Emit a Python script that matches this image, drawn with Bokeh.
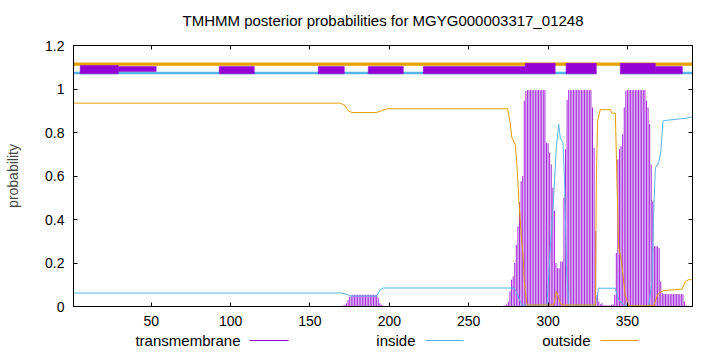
from bokeh.plotting import figure
from bokeh.models import Range1d, FixedTicker, LinearAxis
from bokeh.layouts import column
from bokeh.embed import file_html
from bokeh.resources import INLINE
from bokeh.core.properties import value

TITLE = "TMHMM posterior probabilities for MGYG000003317_01248"
SEQ_START = 1
SEQ_END = 391

x_ticks = [50, 100, 150, 200, 250, 300, 350]
y_ticks = [0, 0.2, 0.4, 0.6, 0.8, 1.0, 1.2]
y_tick_labels = ["0", "0.2", "0.4", "0.6", "0.8", "1", "1.2"]

# posterior probability of "outside" (at its breakpoints)
outside_x = [1, 169, 172, 174, 176.4, 192, 195, 198.5, 274.5, 276, 277.2, 279.3,
             280.4, 281.5, 282.9, 284.2, 285, 286.7, 303.5, 304.5, 305.2, 306.2,
             307.3, 308.8, 329.8, 330.4, 331.2, 332.9, 339.2, 340.3, 342.4, 343.4,
             344.5, 345.9, 347.2, 348.6, 350.8, 366.5, 368.6, 369.7, 372.8, 384.4,
             386.5, 388.6, 391]
outside_y = [0.935, 0.935, 0.925, 0.90, 0.892, 0.892, 0.90, 0.909, 0.909, 0.85, 0.776, 0.746,
             0.65, 0.50, 0.346, 0.238, 0.115, 0.007, 0.007, 0.04, 0.069, 0.05,
             0.023, 0.007, 0.007, 0.576, 0.853, 0.905, 0.905, 0.889, 0.889, 0.576,
             0.269, 0.223, 0.146, 0.053, 0.003, 0.003, 0.046, 0.061, 0.073, 0.08,
             0.115, 0.123, 0.123]

# posterior probability of "inside"
inside_x = [1, 170, 173, 176, 192, 194, 196, 278.3, 280, 281.5, 283.6, 299.3, 301.4,
            303.5, 305.2, 306.7, 307.7, 309.4, 310.4, 311.5, 313, 329.8, 331.9, 342.4,
            344.5, 348.6, 363.4, 365.5, 366.5, 367.6, 369.7, 371.1, 372.4, 374.5,
            387.5, 390.7, 391]
inside_y = [0.062, 0.062, 0.056, 0.048, 0.048, 0.075, 0.085, 0.085, 0.069, 0.038, 0.007, 0.007, 0.269,
            0.50, 0.73, 0.838, 0.776, 0.753, 0.576, 0.192, 0.007, 0.007, 0.084, 0.084,
            0.03, 0.003, 0.003, 0.115, 0.422, 0.638, 0.661, 0.715, 0.853, 0.856,
            0.866, 0.872, 0.872]

# posterior probability of "transmembrane", per residue (residues not listed are ~0)
tm_pos = [170, 171, 172, 173, 174, 175, 176, 177, 178, 179, 180, 181, 182, 183, 184,
          185, 186, 187, 188, 189, 190, 191, 192, 193, 194, 195, 196, 197,
          272, 273, 274, 275, 276, 277, 278, 279, 280, 281, 282, 283, 284, 285, 286,
          287, 288, 289, 290, 291, 292, 293, 294, 295, 296, 297, 298, 299, 300, 301,
          302, 303, 304, 305, 306, 307, 308, 309, 310, 311, 312, 313, 314, 315, 316,
          317, 318, 319, 320, 321, 322, 323, 324, 325, 326, 327, 328, 329, 330, 331,
          332, 333, 334, 335, 336, 337, 338, 339, 340, 341, 342, 343, 344, 345, 346,
          347, 348, 349, 350, 351, 352, 353, 354, 355, 356, 357, 358, 359, 360, 361,
          362, 363, 364, 365, 366, 367, 368, 369, 370, 371, 372, 373, 374, 375, 376,
          377, 378, 379, 380, 381, 382, 383, 384, 385, 386, 387]
tm_val = [0.003, 0.005, 0.008, 0.015, 0.03, 0.045, 0.05, 0.054, 0.054, 0.054, 0.054, 0.054, 0.054, 0.054, 0.054,
          0.054, 0.054, 0.054, 0.054, 0.054, 0.054, 0.054, 0.054, 0.04, 0.015, 0.008, 0.004, 0.002,
          0.004, 0.006, 0.01, 0.023, 0.069, 0.123, 0.138, 0.20, 0.284, 0.369, 0.48, 0.576, 0.60, 0.946, 0.99,
          0.995, 0.995, 0.995, 0.995, 0.995, 0.995, 0.995, 0.995, 0.995, 0.995, 0.995, 0.995, 0.753, 0.75, 0.707,
          0.653, 0.546, 0.44, 0.20, 0.176, 0.176, 0.207, 0.207, 0.50, 0.723, 0.95, 0.995, 0.995, 0.995, 0.995,
          0.995, 0.995, 0.995, 0.995, 0.995, 0.995, 0.995, 0.995, 0.995, 0.995, 0.995, 0.915, 0.73, 0.346, 0.053,
          0.023, 0.01, 0.015, 0.005, 0.005, 0.005, 0.005, 0.005, 0.008, 0.01, 0.053, 0.246, 0.676, 0.723, 0.738,
          0.792, 0.915, 0.992, 0.995, 0.995, 0.995, 0.995, 0.995, 0.995, 0.995, 0.995, 0.995, 0.995, 0.995, 0.995,
          0.946, 0.915, 0.838, 0.653, 0.484, 0.277, 0.277, 0.277, 0.269, 0.115, 0.061, 0.057, 0.057, 0.057, 0.057,
          0.057, 0.057, 0.057, 0.057, 0.057, 0.057, 0.057, 0.057, 0.057, 0.023, 0.005]

# predicted topology track drawn above the curves
inside_track_start = [1, 345.5]
inside_track_end = [330.4, 391]
tm_box_start = [5.2, 29.2, 92.8, 155.2, 186.7, 221.4, 285.6, 311.3, 345.5, 367.6]
tm_box_end = [29.2, 53.1, 114.9, 171.6, 208.8, 285.6, 304.5, 330.4, 367.6, 384.6]
tm_box_kind = ["mid", "thin", "low", "low", "low", "low", "tall", "tall", "tall", "low"]

legend_labels = ["transmembrane", "inside", "outside"]

C_TM = "#9400D3"
C_IN = "#56B4E9"
C_OUT = "#E69F00"
FONT = "Liberation Sans"
BORDER_L, BORDER_R = 73, 28


def strip(height):
    """A bare figure whose data coordinates are page pixels, aligned with the main frame."""
    f = figure(width=720, height=height, x_range=Range1d(BORDER_L, 720 - BORDER_R),
               y_range=Range1d(0, height), output_backend="svg", toolbar_location=None,
               min_border_left=BORDER_L, min_border_right=BORDER_R,
               min_border_top=0, min_border_bottom=0)
    f.axis.visible = False
    f.grid.visible = False
    f.outline_line_color = None
    return f


# title strip
tt = strip(30)
tt.text(x=[(BORDER_L + 720 - BORDER_R) / 2], y=[10], text=[TITLE], text_align="center",
        text_baseline="middle", text_font=value(FONT), text_font_size="15px", text_color="black")

p = figure(width=720, height=302, x_range=Range1d(SEQ_START, SEQ_END), y_range=Range1d(0, 1.2),
           output_backend="svg", toolbar_location=None,
           min_border_left=BORDER_L, min_border_right=BORDER_R, min_border_top=15, min_border_bottom=26)
p.grid.visible = False
p.outline_line_color = "black"
p.outline_line_width = 1
p.background_fill_color = "white"
p.border_fill_color = "white"

for ax in p.xaxis:
    ax.ticker = FixedTicker(ticks=x_ticks)
for ax in p.yaxis:
    ax.ticker = FixedTicker(ticks=y_ticks)
    ax.major_label_overrides = {t: l for t, l in zip(y_ticks, y_tick_labels)}
    ax.axis_label = "probability"
    ax.axis_label_text_font = FONT
    ax.axis_label_text_font_size = "14px"
    ax.axis_label_text_font_style = "normal"
    ax.axis_label_standoff = 21
for ax in list(p.xaxis) + list(p.yaxis):
    ax.major_tick_in = 4
    ax.major_tick_out = 0
    ax.minor_tick_line_color = None
    ax.axis_line_color = "black"
    ax.major_tick_line_color = "black"
    ax.major_label_text_font = FONT
    ax.major_label_text_font_size = "14px"
    ax.major_label_text_color = "black"
    ax.major_label_standoff = 9

# mirrored tick marks on the top and right borders (no labels)
top_ax = LinearAxis(ticker=FixedTicker(ticks=x_ticks))
right_ax = LinearAxis(ticker=FixedTicker(ticks=y_ticks))
for ax in (top_ax, right_ax):
    ax.major_tick_in = 4
    ax.major_tick_out = 0
    ax.minor_tick_line_color = None
    ax.major_label_text_font_size = "1px"
    ax.major_label_text_alpha = 0
    ax.major_label_text_color = None
    ax.major_label_standoff = 0
    ax.axis_line_color = "black"
p.add_layout(top_ax, "above")
p.add_layout(right_ax, "right")

# transmembrane impulses
p.segment(x0=tm_pos, y0=[0] * len(tm_pos), x1=tm_pos, y1=tm_val, line_color=C_TM,
          line_width=1.0, line_alpha=0.85)
# inside / outside curves
p.line(inside_x, inside_y, line_color=C_IN, line_width=1)
p.line(outside_x, outside_y, line_color=C_OUT, line_width=1)

# topology track
p.segment(x0=[SEQ_START], y0=[1.114], x1=[SEQ_END], y1=[1.114], line_color=C_OUT, line_width=3.3)
p.segment(x0=inside_track_start, y0=[1.074] * len(inside_track_start), x1=inside_track_end,
          y1=[1.074] * len(inside_track_end), line_color=C_IN, line_width=2.5)
levels = {"low": (1.070, 1.104), "mid": (1.070, 1.108), "thin": (1.081, 1.103), "tall": (1.070, 1.118)}
p.quad(left=tm_box_start, right=tm_box_end,
       bottom=[levels[k][0] for k in tm_box_kind], top=[levels[k][1] for k in tm_box_kind],
       fill_color=C_TM, line_color=C_TM, line_width=0.5)

# legend strip below the plot (gnuplot style: label, then line sample)
lg = strip(20)
lg.text(x=[240, 415, 590], y=[12, 12, 12], text=legend_labels, text_align="right",
        text_baseline="middle", text_font=value(FONT), text_font_size="15px", text_color="black")
lg.segment(x0=[249, 425, 600], y0=[12, 12, 12], x1=[288, 463, 638], y1=[12, 12, 12],
           line_color=[C_TM, C_IN, C_OUT], line_width=1)

layout = column(tt, p, lg, spacing=0)
open("out.html", "w").write(file_html(layout, INLINE))
